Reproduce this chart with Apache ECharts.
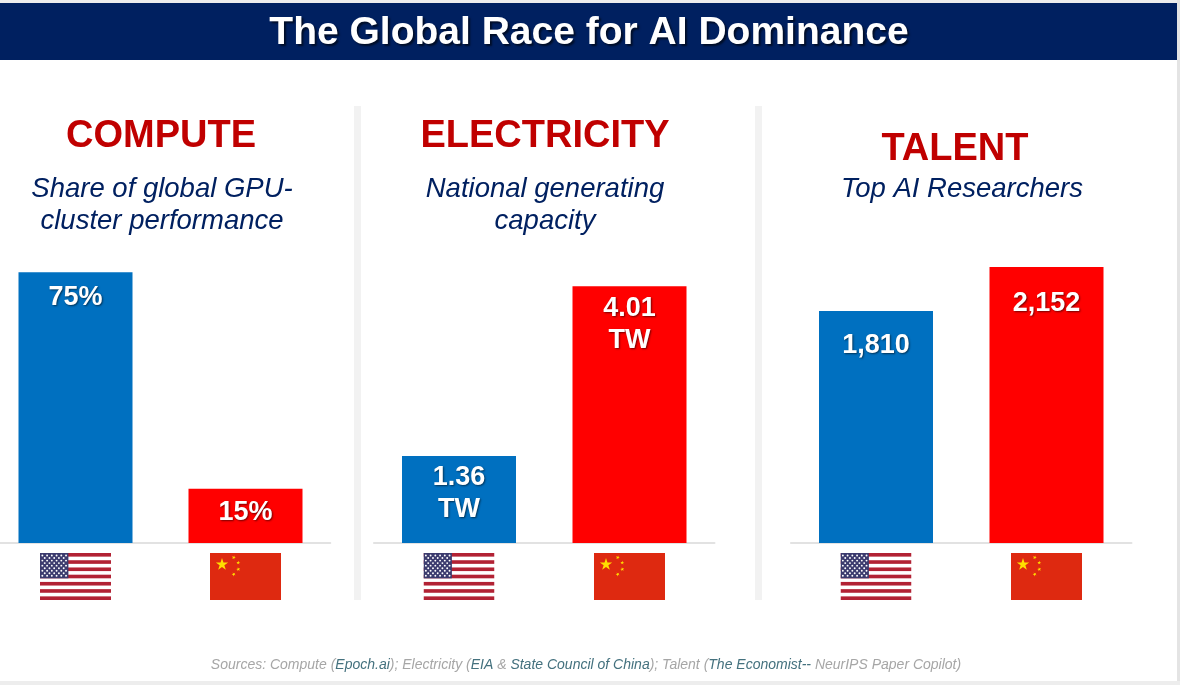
<!DOCTYPE html>
<html>
<head>
<meta charset="utf-8">
<script src="https://cdn.jsdelivr.net/npm/echarts@6/dist/echarts.min.js"></script>
<style>
html,body{margin:0;padding:0;background:#fff}
#main{width:1180px;height:685px}
</style>
</head>
<body>
<div id="main"></div>
<script>
// 数据
const countries = ['United States', 'China'];
const panelNames = ['COMPUTE', 'ELECTRICITY', 'TALENT'];
const panelSubs = ['Share of global GPU-\ncluster performance', 'National generating\ncapacity', 'Top AI Researchers'];
const computeShare = [75, 15];        // 全球GPU集群性能占比 %
const electricityTW = [1.36, 4.01];   // 发电装机容量 TW
const talentCount = [1810, 2152];     // 顶级AI研究人员
const axisMax = [100, 5, 2500];
const barColors = ['#0070C0', '#FF0000'];

// 布局
const panels = [
    {left: -9.5, width: 340, top: 182, head: [161, 137], sub: [162, 173], gaps: [9, 8]},
    {left: 373.75, width: 341, top: 223, head: [545, 137], sub: [545, 173], gaps: [6, 6]},
    {left: 790.75, width: 341, top: 222.5, head: [955, 150], sub: [962, 173], gaps: [19, 20]}
];
const formatters = [
    v => v + '%',
    v => v.toFixed(2) + '\nTW',
    v => v.toLocaleString('en-US')
];
const values = [computeShare, electricityTW, talentCount];

// 国旗 svg
function starPath(cx, cy, r, rot) {
    let d = '';
    for (let i = 0; i < 10; i++) {
        let rr = i % 2 === 0 ? r : r * 0.382;
        let a = -Math.PI / 2 + rot + i * Math.PI / 5;
        d += (i === 0 ? 'M' : 'L') + (cx + rr * Math.cos(a)).toFixed(2) + ' ' + (cy + rr * Math.sin(a)).toFixed(2);
    }
    return d + 'Z';
}
function usFlag() {
    let w = 71, h = 47, sh = h / 13;
    let s = '<svg xmlns="http://www.w3.org/2000/svg" width="' + w + '" height="' + h + '" viewBox="0 0 ' + w + ' ' + h + '">';
    s += '<rect width="' + w + '" height="' + h + '" fill="#fff"/>';
    for (let i = 0; i < 13; i += 2) {
        s += '<rect x="0" y="' + (i * sh).toFixed(2) + '" width="' + w + '" height="' + sh.toFixed(2) + '" fill="#B22234"/>';
    }
    let cw = 28.4, ch = sh * 7;
    s += '<rect width="' + cw + '" height="' + ch.toFixed(2) + '" fill="#3C3B6E"/>';
    for (let r = 0; r < 9; r++) {
        let n = r % 2 === 0 ? 6 : 5;
        for (let c = 0; c < n; c++) {
            let x = cw / 12 * (r % 2 === 0 ? 2 * c + 1 : 2 * c + 2);
            let y = ch / 10 * (r + 1);
            s += '<circle cx="' + x.toFixed(2) + '" cy="' + y.toFixed(2) + '" r="0.95" fill="#fff"/>';
        }
    }
    return s + '</svg>';
}
function cnFlag() {
    let s = '<svg xmlns="http://www.w3.org/2000/svg" width="71" height="47" viewBox="0 0 71 47">';
    s += '<rect width="71" height="47" fill="#DE2910"/>';
    s += '<path d="' + starPath(12, 11.5, 6.5, 0) + '" fill="#FFDE00"/>';
    [[23.7, 4.5], [28.3, 9.8], [28.3, 16.3], [23.7, 21.3]].forEach((p, i) => {
        s += '<path d="' + starPath(p[0], p[1], 2.1, 0.4 - i * 0.3) + '" fill="#FFDE00"/>';
    });
    return s + '</svg>';
}
function loadImg(svg) {
    return new Promise(resolve => {
        let img = new Image();
        img.onload = () => resolve(img);
        img.onerror = () => resolve(img);
        img.src = 'data:image/svg+xml;charset=utf-8,' + encodeURIComponent(svg);
    });
}

Promise.all([loadImg(usFlag()), loadImg(cnFlag())]).then(imgs => {
    let myChart = echarts.init(document.getElementById('main'));

    let grids = [], xAxes = [], yAxes = [], series = [];
    panels.forEach((p, k) => {
        grids.push({left: p.left, width: p.width, top: p.top, bottom: 142, containLabel: false, outerBoundsMode: 'none'});
        xAxes.push({
            type: 'category', gridIndex: k, data: countries,
            axisTick: {show: false},
            axisLine: {lineStyle: {color: '#D9D9D9', width: 1.5}},
            axisLabel: {
                margin: 10,
                formatter: v => v === 'China' ? '{cn| }' : '{us| }',
                rich: {
                    us: {width: 71, height: 47, backgroundColor: {image: imgs[0]}},
                    cn: {width: 71, height: 47, backgroundColor: {image: imgs[1]}}
                }
            }
        });
        yAxes.push({type: 'value', gridIndex: k, min: 0, max: axisMax[k], show: false});
        series.push({
            type: 'bar', xAxisIndex: k, yAxisIndex: k, barWidth: 114,
            data: values[k].map((v, i) => ({
                value: v,
                itemStyle: {color: barColors[i]},
                label: {distance: p.gaps[i]}
            })),
            label: {
                show: true, position: 'insideTop',
                formatter: prm => formatters[k](prm.value),
                color: '#fff', fontFamily: 'Liberation Sans, Arial, sans-serif',
                fontWeight: 'bold', fontSize: 27, lineHeight: 32,
                textShadowColor: 'rgba(0,0,0,0.55)', textShadowBlur: 2,
                textShadowOffsetX: 1, textShadowOffsetY: 1
            },
            silent: true
        });
    });

    let graphic = [
        {type: 'rect', shape: {x: 0, y: 0, width: 1180, height: 685}, style: {fill: '#fff'}, z: -10},
        {type: 'rect', shape: {x: 0, y: 0, width: 1180, height: 3}, style: {fill: '#EDEDED'}},
        {type: 'rect', shape: {x: 1177, y: 0, width: 3, height: 685}, style: {fill: '#E4E4E4'}},
        {type: 'rect', shape: {x: 0, y: 681, width: 1180, height: 4}, style: {fill: '#EDEDED'}},
        {type: 'rect', shape: {x: 0, y: 3, width: 1177, height: 57}, style: {fill: '#002060'}},
        {
            type: 'text', x: 589, y: 33,
            style: {
                text: 'The Global Race for AI Dominance',
                fill: '#fff', font: 'bold 39px "Liberation Sans", Arial, sans-serif',
                textAlign: 'center', textVerticalAlign: 'middle',
                textShadowColor: 'rgba(0,0,0,0.6)', textShadowBlur: 2,
                textShadowOffsetX: 2, textShadowOffsetY: 2
            }
        },
        {type: 'rect', shape: {x: 354, y: 106, width: 7, height: 494}, style: {fill: '#F2F2F2'}},
        {type: 'rect', shape: {x: 755, y: 106, width: 7, height: 494}, style: {fill: '#F2F2F2'}}
    ];
    panels.forEach((p, k) => {
        graphic.push({
            type: 'text', x: p.head[0], y: p.head[1],
            style: {
                text: panelNames[k], fill: '#C00000',
                font: 'bold 38px "Liberation Sans", Arial, sans-serif',
                textAlign: 'center', textVerticalAlign: 'middle'
            }
        });
        graphic.push({
            type: 'text', x: p.sub[0], y: p.sub[1],
            style: {
                text: panelSubs[k], fill: '#002060',
                font: 'italic 27.5px "Liberation Sans", Arial, sans-serif',
                lineHeight: 32, textAlign: 'center', textVerticalAlign: 'top'
            }
        });
    });
    graphic.push({
        type: 'text', x: 586, y: 665,
        style: {
            text: '{g|Sources: Compute (}{l|Epoch.ai}{g|); Electricity (}{l|EIA}{g| & }{l|State Council of China}{g|); Talent (}{l|The Economist--}{g| NeurIPS Paper Copilot)}',
            textAlign: 'center', textVerticalAlign: 'middle',
            rich: {
                g: {fill: '#A6A6A6', font: 'italic 14px "Liberation Sans", Arial, sans-serif'},
                l: {fill: '#44717E', font: 'italic 14px "Liberation Sans", Arial, sans-serif'}
            }
        }
    });

    let option = {
        animation: false,
        backgroundColor: '#fff',
        grid: grids,
        xAxis: xAxes,
        yAxis: yAxes,
        series: series,
        graphic: graphic
    };
    myChart.setOption(option);
});
</script>
</body>
</html>
